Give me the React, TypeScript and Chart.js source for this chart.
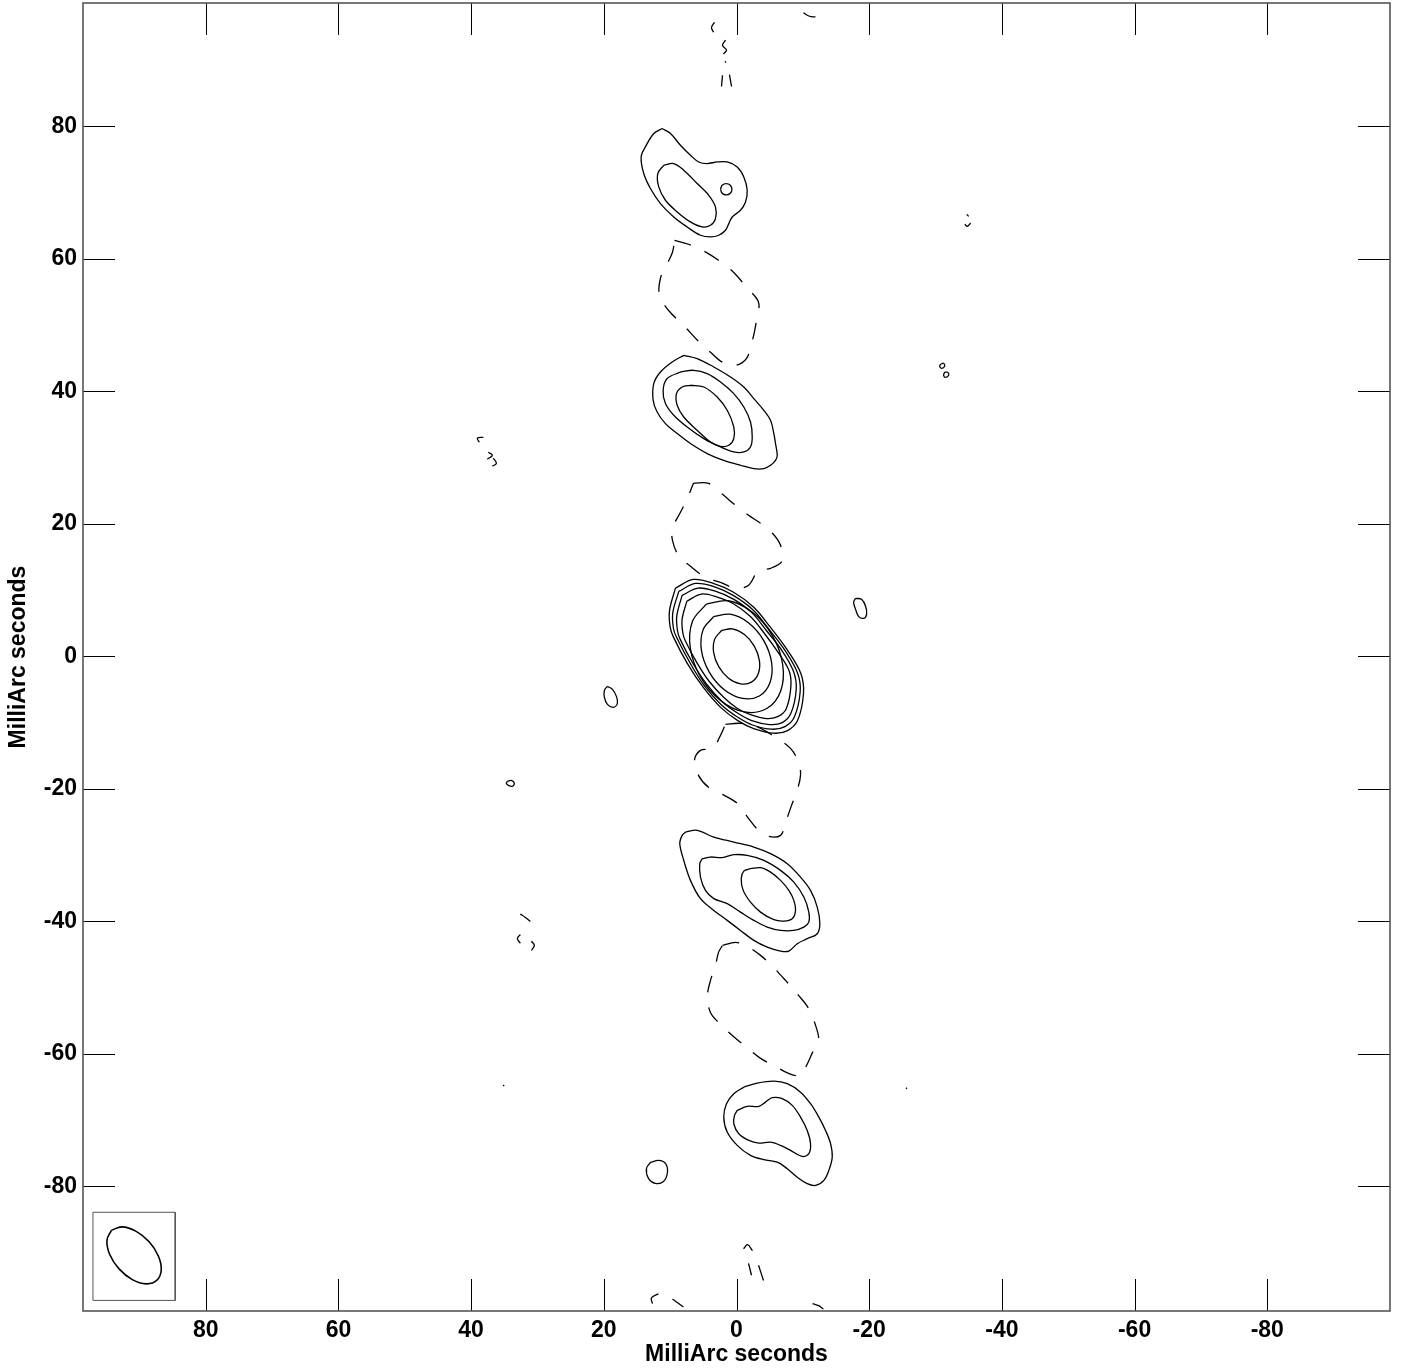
import { useEffect, useRef } from "react";
import { Chart, registerables } from "chart.js";
Chart.register(...registerables);

type P = [number, number];

const X_TICKS = [80, 60, 40, 20, 0, -20, -40, -60, -80];
const Y_TICKS = [80, 60, 40, 20, 0, -20, -40, -60, -80];
const X_RANGE: P = [-98.5, 98.5];
const Y_RANGE: P = [-98.8, 98.6];
const AXIS_TITLE_X = "MilliArc seconds";
const AXIS_TITLE_Y = "MilliArc seconds";

// ---- positive contours (solid), offsets in milliarcseconds ----
const coreLevel1: P[] = [[2.25,3.90],[3.29,2.60],[3.45,0.61],[2.68,-1.55],[1.20,-3.29],[-0.61,-4.15],[-2.25,-3.90],[-3.29,-2.60],[-3.45,-0.61],[-2.68,1.55],[-1.20,3.29],[0.61,4.15],[2.25,3.90]];
const coreLevel2: P[] = [[3.45,5.98],[5.04,3.99],[5.29,0.93],[4.11,-2.38],[1.84,-5.04],[-0.93,-6.36],[-3.45,-5.98],[-5.04,-3.99],[-5.29,-0.93],[-4.11,2.38],[-1.84,5.04],[0.93,6.36],[3.45,5.98]];
const coreLevel3: P[] = [[4.55,7.88],[6.65,5.26],[6.96,1.23],[5.41,-3.13],[2.41,-6.65],[-1.23,-8.39],[-4.55,-7.88],[-6.65,-5.26],[-6.96,-1.23],[-5.41,3.13],[-2.41,6.65],[1.23,8.39],[4.55,7.88]];
const coreLevel4: P[] = [[7.5,8.3],[8.2,5.6],[8.1,3.6],[7.7,2.3],[6.0,-0.9],[4.1,-3.8],[1.9,-6.2],[-0.2,-7.9],[-2.1,-8.8],[-4.5,-9.4],[-6.2,-9.1],[-7.5,-7.9],[-8.2,-4.5],[-7.9,-2.1],[-6.2,0.7],[-4.1,3.6],[-2.1,6.0],[0.4,7.9],[2.8,8.9],[5.3,9.4],[7.5,8.3]];
const coreLevel5: P[] = [[8.2,9.2],[9.0,6.1],[8.9,3.9],[8.5,2.6],[6.6,-1.0],[4.5,-4.2],[2.1,-6.9],[-0.2,-8.6],[-2.3,-9.7],[-5.0,-10.3],[-6.9,-10.0],[-8.2,-8.6],[-9.0,-5.0],[-8.6,-2.3],[-6.9,0.8],[-4.5,3.9],[-2.3,6.6],[0.4,8.6],[3.1,9.8],[5.8,10.3],[8.2,9.2]];
const coreLevel6: P[] = [[8.7,9.8],[9.6,6.6],[9.5,4.2],[9.0,2.8],[7.0,-1.0],[4.8,-4.5],[2.3,-7.3],[-0.2,-9.2],[-2.5,-10.4],[-5.3,-11.0],[-7.3,-10.6],[-8.7,-9.2],[-9.6,-5.3],[-9.2,-2.5],[-7.3,0.9],[-4.8,4.2],[-2.5,7.0],[0.5,9.2],[3.3,10.5],[6.2,11.0],[8.7,9.8]];
const coreLevel7: P[] = [[9.2,10.3],[10.1,6.9],[10.0,4.4],[9.5,2.9],[7.4,-1.1],[5.0,-4.7],[2.4,-7.7],[-0.2,-9.7],[-2.6,-10.9],[-5.6,-11.6],[-7.7,-11.2],[-9.2,-9.7],[-10.1,-5.6],[-9.7,-2.6],[-7.7,0.9],[-5.1,4.4],[-2.6,7.4],[0.5,9.7],[3.5,11.0],[6.5,11.6],[9.2,10.3]];

const knot70Outer: P[] = [[11.21,79.65],[9.95,78.90],[8.45,77.13],[6.94,75.62],[5.69,74.61],[4.42,74.37],[2.91,74.61],[1.40,74.61],[-0.11,73.86],[-1.10,72.35],[-1.61,70.34],[-1.36,68.57],[-0.60,67.32],[0.65,66.31],[1.16,65.31],[1.66,64.30],[2.67,63.55],[3.92,63.29],[5.43,63.55],[7.44,64.80],[9.46,66.31],[11.46,68.33],[12.97,70.60],[13.98,72.86],[14.37,75.37],[13.73,76.88],[12.47,78.90],[11.21,79.65]];
const knot70Inner: P[] = [[10.97,74.11],[9.46,74.37],[7.95,73.36],[5.93,71.35],[4.18,69.58],[3.17,67.82],[3.17,66.07],[3.92,65.06],[5.17,64.80],[6.94,65.56],[8.94,67.07],[10.71,68.83],[11.72,70.84],[11.87,72.86],[10.97,74.11]];
const knot70Spot: P[] = [[2.41,70.49],[2.16,71.10],[1.55,71.35],[0.94,71.10],[0.69,70.49],[0.94,69.88],[1.55,69.63],[2.16,69.88],[2.41,70.49]];

const knot37Outer: P[] = [[7.95,45.43],[5.93,44.94],[3.42,43.67],[0.90,42.16],[-1.10,40.65],[-2.61,38.90],[-4.12,37.13],[-5.13,35.62],[-5.63,33.62],[-5.88,32.11],[-6.14,30.34],[-5.88,29.58],[-5.13,28.83],[-4.12,28.33],[-2.61,28.33],[-0.60,28.83],[1.92,29.58],[4.42,30.60],[6.94,32.11],[8.94,33.62],[10.71,35.12],[11.96,36.88],[12.56,38.64],[12.47,41.16],[11.46,42.91],[9.70,44.42],[7.95,45.43]];
const knot37Mid: P[] = [[8.45,42.91],[6.44,43.17],[4.42,42.67],[2.41,41.40],[0.41,39.65],[-1.10,37.63],[-2.11,35.37],[-2.37,33.10],[-2.11,31.59],[-1.10,30.84],[0.41,30.84],[2.41,31.59],[4.93,32.86],[7.44,34.61],[9.46,36.38],[10.71,38.14],[11.06,40.15],[10.45,41.92],[8.45,42.91]];
const knot37Inner: P[] = [[6.94,40.91],[4.93,40.65],[2.91,39.14],[1.40,37.13],[0.41,34.61],[0.41,32.86],[1.16,31.85],[2.41,31.70],[3.92,32.35],[5.93,34.11],[7.95,36.12],[8.94,37.89],[9.05,39.65],[8.19,40.65],[6.94,40.91]];

const knotM37Outer: P[] = [[7.69,-26.52],[5.93,-26.26],[3.42,-27.28],[0.41,-28.03],[-2.61,-28.78],[-5.13,-29.78],[-7.65,-31.29],[-9.65,-33.31],[-11.16,-35.32],[-12.17,-37.84],[-12.56,-40.35],[-12.17,-41.86],[-10.66,-42.61],[-9.16,-43.37],[-7.89,-44.48],[-6.64,-44.48],[-4.63,-43.88],[-2.61,-42.87],[-0.60,-41.36],[1.40,-39.85],[3.42,-38.34],[5.43,-36.57],[6.94,-33.81],[7.95,-30.79],[8.55,-28.27],[8.19,-27.02],[7.69,-26.52]];
const knotM37Mid: P[] = [[5.17,-30.54],[3.92,-30.29],[2.16,-30.38],[0.41,-29.93],[-1.61,-30.04],[-4.12,-30.79],[-6.64,-32.30],[-8.64,-34.07],[-10.15,-36.33],[-10.90,-38.60],[-10.90,-40.11],[-10.15,-40.86],[-8.64,-41.36],[-6.64,-41.36],[-4.63,-40.86],[-2.61,-39.85],[-0.60,-38.60],[1.40,-37.33],[3.42,-36.57],[4.68,-35.32],[5.43,-33.31],[5.54,-31.29],[5.17,-30.54]];
const knotM37Inner: P[] = [[-2.11,-32.05],[-3.62,-31.89],[-5.13,-32.56],[-6.64,-33.81],[-7.89,-35.32],[-8.64,-36.83],[-8.90,-38.34],[-8.40,-39.59],[-7.13,-39.96],[-5.63,-39.75],[-3.62,-38.60],[-2.11,-37.09],[-1.01,-35.32],[-0.71,-33.55],[-1.10,-32.41],[-2.11,-32.05]];

const knotM72Outer: P[] = [[-1.10,-65.01],[-3.12,-64.41],[-5.63,-64.11],[-7.65,-64.50],[-9.65,-65.77],[-11.16,-67.52],[-12.41,-69.54],[-13.42,-71.55],[-14.18,-73.55],[-14.43,-75.58],[-13.92,-77.58],[-13.17,-79.09],[-11.92,-79.85],[-10.66,-79.59],[-9.16,-78.60],[-7.65,-77.33],[-6.14,-76.33],[-4.12,-75.97],[-2.11,-75.32],[-0.11,-73.81],[1.40,-71.80],[1.92,-69.54],[1.51,-67.52],[0.41,-66.01],[-1.10,-65.01]];
const knotM72Inner: P[] = [[-0.11,-68.53],[-1.61,-67.92],[-3.36,-67.92],[-4.37,-67.28],[-5.38,-66.61],[-6.89,-66.76],[-8.40,-67.77],[-9.65,-69.54],[-10.66,-71.55],[-11.16,-73.55],[-10.90,-75.06],[-9.91,-75.47],[-8.14,-74.57],[-6.64,-73.81],[-5.13,-73.31],[-3.36,-73.46],[-1.86,-73.06],[-0.35,-72.05],[0.41,-70.54],[0.30,-69.28],[-0.11,-68.53]];

const blobEast: P[] = [[19.46,-4.53],[18.70,-4.98],[18.10,-6.04],[17.95,-7.09],[18.55,-7.70],[19.46,-7.25],[19.91,-6.19],[19.91,-5.13],[19.46,-4.53]];
const blobWest: P[] = [[-17.95,8.75],[-18.85,8.60],[-19.46,7.55],[-19.61,6.34],[-19.16,5.74],[-18.40,6.04],[-17.95,7.09],[-17.65,8.15],[-17.95,8.75]];
const blobSouth: P[] = [[12.97,-76.38],[11.76,-76.08],[10.71,-76.53],[10.41,-77.89],[11.01,-79.25],[12.22,-79.55],[13.27,-78.79],[13.57,-77.28],[12.97,-76.38]];
const blobTiny1: P[] = [[34.54,-18.87],[33.94,-18.72],[33.48,-19.17],[33.79,-19.62],[34.39,-19.47],[34.69,-19.17],[34.54,-18.87]];
const blobTiny2: P[] = [[-30.77,44.08],[-31.22,44.23],[-31.37,43.77],[-30.92,43.47],[-30.62,43.77],[-30.77,44.08]];
const blobTiny3: P[] = [[-31.37,42.87],[-31.82,42.87],[-31.98,42.42],[-31.52,42.11],[-31.22,42.42],[-31.37,42.87]];

// ---- negative contours (dashed) ----
const negRing52: P[] = [[9.35,62.79],[7.24,62.19],[5.13,61.28],[2.71,59.77],[0.45,57.96],[-1.51,55.70],[-3.32,53.43],[-3.02,50.72],[-2.41,47.70],[-1.51,44.98],[0.15,43.92],[2.11,44.38],[3.92,45.89],[5.73,47.55],[7.84,49.81],[10.26,52.23],[11.61,54.49],[11.46,57.06],[10.56,59.02],[9.65,60.98],[9.35,62.79]];
const negRing18: P[] = [[6.49,26.11],[4.22,26.11],[2.11,24.45],[0.15,22.79],[-1.81,21.28],[-3.62,20.08],[-5.43,18.57],[-6.64,16.75],[-6.94,14.49],[-5.13,13.28],[-3.32,12.98],[-1.81,10.72],[0.15,10.26],[2.41,11.17],[4.68,11.92],[6.94,13.58],[8.75,15.25],[9.65,17.51],[9.65,19.32],[8.45,21.74],[7.54,23.55],[6.49,26.11]];
const negRingM18: P[] = [[1.66,-10.26],[-0.60,-10.11],[-3.32,-10.72],[-5.88,-12.23],[-8.14,-13.89],[-9.35,-16.00],[-9.65,-17.96],[-9.05,-20.53],[-8.30,-22.49],[-7.39,-25.06],[-6.64,-27.02],[-4.83,-27.17],[-3.32,-26.26],[-1.81,-24.45],[-0.30,-22.34],[2.11,-20.83],[4.22,-19.77],[5.73,-17.96],[6.33,-15.70],[5.43,-14.19],[3.62,-13.89],[2.41,-11.92],[1.66,-10.26]];
const negRingM53: P[] = [[2.11,-43.62],[0.15,-43.17],[-1.36,-43.62],[-3.62,-45.13],[-5.43,-46.79],[-7.39,-48.91],[-9.35,-51.17],[-10.86,-53.13],[-11.92,-55.70],[-12.37,-57.96],[-11.46,-59.77],[-10.56,-61.74],[-9.65,-63.25],[-7.84,-62.94],[-5.88,-61.89],[-3.62,-60.68],[-1.36,-58.87],[0.45,-57.36],[2.41,-55.55],[3.92,-53.74],[4.37,-51.17],[3.92,-48.91],[3.17,-46.64],[2.71,-44.68],[2.11,-43.62]];

// ---- short fragments of negative contours near the edges and noise ----
const fragments: P[][] = [
  [[3.32,95.7],[3.77,94.9],[3.47,94.2]],
  [[1.66,93.0],[2.11,92.2],[1.51,91.5],[1.96,90.9]],
  [[1.75,89.8],[1.60,89.6]],
  [[2.11,87.7],[2.26,86.0]],
  [[1.06,87.8],[0.75,86.0]],
  [[-10.1,97.1],[-11.0,96.6],[-11.9,96.5]],
  [[11.76,-96.2],[12.82,-96.8],[12.67,-97.7]],
  [[9.65,-97.0],[8.0,-98.2]],
  [[-1.06,-89.4],[-1.66,-88.8],[-2.41,-89.7]],
  [[-1.81,-91.6],[-2.26,-93.4]],
  [[-3.32,-91.9],[-4.07,-94.2]],
  [[-11.46,-97.7],[-12.37,-98.0],[-13.1,-98.5]],
  [[38.16,33.06],[39.06,32.91],[38.76,32.30]],
  [[37.41,30.79],[36.80,30.34],[37.56,29.74]],
  [[36.65,29.89],[36.20,29.13],[36.80,28.68]],
  [[-34.7,66.7],[-35.0,66.4]],
  [[-34.4,65.2],[-34.8,64.9],[-35.3,65.4]],
  [[32.58,-38.9],[31.82,-39.4],[31.07,-40.0]],
  [[32.58,-42.0],[33.03,-42.6],[32.58,-43.3]],
  [[30.92,-43.0],[30.47,-43.6],[30.92,-44.4]],
  [[35.2,-64.7],[35.0,-64.85]],
  [[-25.55,-65.1],[-25.7,-65.25]],
];

// ---- restoring beam ----
const beamEllipse: P[] = [[94.21,-86.61],[94.89,-88.14],[94.47,-90.27],[93.07,-92.44],[91.06,-94.06],[88.98,-94.70],[87.39,-94.19],[86.71,-92.66],[87.13,-90.53],[88.53,-88.36],[90.54,-86.74],[92.62,-86.10],[94.21,-86.61]];
const beamBox: P[] = [[97.0,-83.9],[84.6,-83.9],[84.6,-97.2],[97.0,-97.2],[97.0,-83.9]];

const solidContours: P[][] = [
  coreLevel1, coreLevel2, coreLevel3, coreLevel4, coreLevel5, coreLevel6, coreLevel7,
  knot70Outer, knot70Inner, knot70Spot,
  knot37Outer, knot37Mid, knot37Inner,
  knotM37Outer, knotM37Mid, knotM37Inner,
  knotM72Outer, knotM72Inner,
  blobEast, blobWest, blobSouth, blobTiny1, blobTiny2, blobTiny3,
];
const dashedContours: P[][] = [negRing52, negRing18, negRingM18, negRingM53];

const toXY = (pts: P[]) => pts.map(([x, y]) => ({ x, y }));

const FONT = { family: "'Liberation Sans', Arial, sans-serif", weight: "bold" as const, size: 23 };

export default function App() {
  const ref = useRef<HTMLCanvasElement | null>(null);
  useEffect(() => {
    if (!ref.current) return;
    const base = { showLine: true, pointRadius: 0, pointHoverRadius: 0, borderColor: "#000", fill: false };
    const datasets: any[] = [
      ...solidContours.map((c) => ({ ...base, data: toXY(c), borderWidth: 1.3, tension: 0.35 })),
      ...dashedContours.map((c) => ({ ...base, data: toXY(c), borderWidth: 1.3, tension: 0.35, borderDash: [17, 15] })),
      ...fragments.map((c) => ({ ...base, data: toXY(c), borderWidth: 1.3, tension: 0.4 })),
      { ...base, data: toXY(beamEllipse), borderWidth: 1.6, tension: 0.4 },
      { ...base, data: toXY(beamBox), borderWidth: 1, tension: 0, borderColor: "#555" },
    ];
    const frame = {
      id: "frameTicks",
      afterDatasetsDraw(chart: any) {
        const { ctx, chartArea, scales } = chart;
        const { left, right, top, bottom } = chartArea;
        ctx.save();
        ctx.strokeStyle = "#000";
        ctx.lineWidth = 1;
        ctx.beginPath();
        for (const v of X_TICKS) {
          const px = Math.round(scales.x.getPixelForValue(v)) + 0.5;
          ctx.moveTo(px, bottom); ctx.lineTo(px, bottom - 32);
          ctx.moveTo(px, top); ctx.lineTo(px, top + 32);
        }
        for (const v of Y_TICKS) {
          const py = Math.round(scales.y.getPixelForValue(v)) + 0.5;
          ctx.moveTo(left, py); ctx.lineTo(left + 32, py);
          ctx.moveTo(right, py); ctx.lineTo(right - 32, py);
        }
        ctx.stroke();
        ctx.strokeStyle = "#555";
        ctx.lineWidth = 1.6;
        ctx.strokeRect(left, top, right - left, bottom - top);
        ctx.restore();
      },
    };
    const chart = new Chart(ref.current, {
      type: "scatter",
      data: { datasets },
      plugins: [frame],
      options: {
        animation: false,
        responsive: false,
        events: [],
        layout: { padding: { left: 0, right: 11, top: 3, bottom: 0 } },
        plugins: { legend: { display: false }, tooltip: { enabled: false } },
        scales: {
          x: {
            type: "linear",
            min: X_RANGE[0],
            max: X_RANGE[1],
            reverse: true,
            afterBuildTicks: (s: any) => { s.ticks = X_TICKS.map((v) => ({ value: v })); },
            afterFit: (s: any) => { s.height = 57; s.paddingLeft = 0; s.paddingRight = 0; },
            grid: { display: false, drawTicks: false, tickLength: 0 },
            border: { display: false },
            ticks: { color: "#000", font: FONT, padding: 6, maxRotation: 0, autoSkip: false, callback: (v: any) => String(v) },
            title: { display: true, text: AXIS_TITLE_X, color: "#000", font: FONT, padding: { top: 0, bottom: 0 } },
          },
          y: {
            type: "linear",
            min: Y_RANGE[0],
            max: Y_RANGE[1],
            afterBuildTicks: (s: any) => { s.ticks = Y_TICKS.map((v) => ({ value: v })); },
            afterFit: (s: any) => { s.width = 83; s.paddingTop = 0; s.paddingBottom = 0; },
            grid: { display: false, drawTicks: false, tickLength: 0 },
            border: { display: false },
            ticks: { color: "#000", font: FONT, padding: 6, autoSkip: false, callback: (v: any) => String(v) },
            title: { display: true, text: AXIS_TITLE_Y, color: "#000", font: FONT, padding: { top: 5, bottom: 0 } },
          },
        },
      },
    });
    return () => chart.destroy();
  }, []);
  return (
    <div style={{ position: "absolute", left: 0, top: 0, width: 1401, height: 1368, background: "#fff" }}>
      <canvas ref={ref} width={1401} height={1368} style={{ width: 1401, height: 1368 }} />
    </div>
  );
}
